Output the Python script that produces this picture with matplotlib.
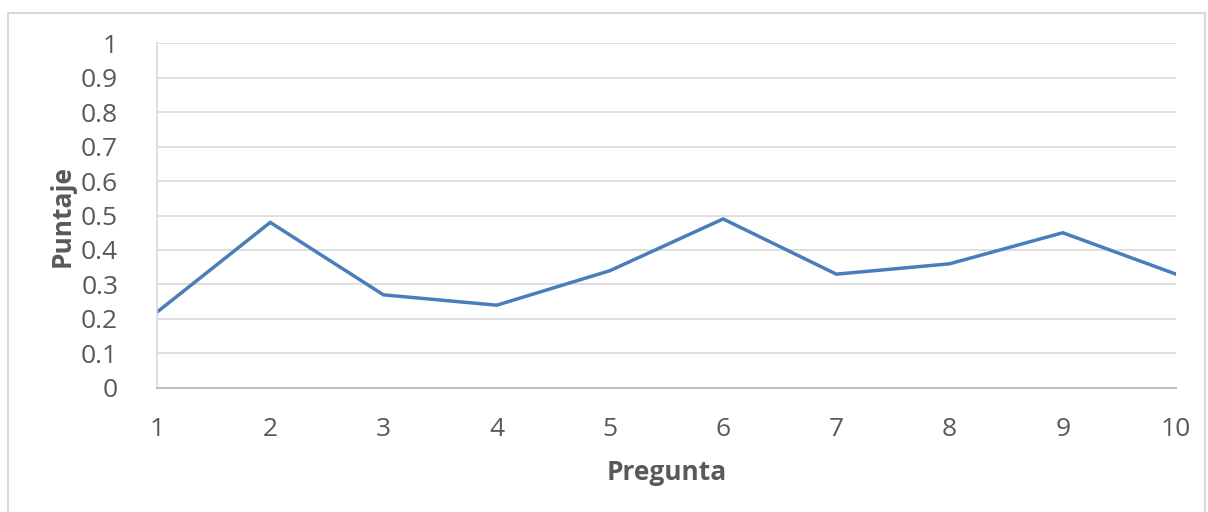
import matplotlib.pyplot as plt
from matplotlib.patches import Rectangle

preguntas = [1, 2, 3, 4, 5, 6, 7, 8, 9, 10]
puntaje = [0.22, 0.48, 0.27, 0.24, 0.34, 0.49, 0.33, 0.36, 0.45, 0.33]
yticks = [0, 0.1, 0.2, 0.3, 0.4, 0.5, 0.6, 0.7, 0.8, 0.9, 1]
ylabels = ["0", "0.1", "0.2", "0.3", "0.4", "0.5", "0.6", "0.7", "0.8", "0.9", "1"]

plt.rcParams['font.family'] = ['Open Sans', 'DejaVu Sans']
txt = '#595959'

fig = plt.figure(figsize=(12.08, 5.12), dpi=100)
ax = fig.add_axes([0.130, 0.2422, 0.8435, 0.6738])

ax.plot(preguntas, puntaje, color='#4A7EBB', lw=2.5, solid_joinstyle='miter')
ax.set_xlim(1, 10)
ax.set_ylim(0, 1)
ax.set_xticks(preguntas)
ax.set_yticks(yticks)
ax.set_yticklabels(ylabels)
ax.grid(axis='y', color='#D9D9D9', lw=1.2)
ax.set_axisbelow(True)
for s in ['top', 'right']:
    ax.spines[s].set_visible(False)
ax.spines['left'].set_color('#D9D9D9')
ax.spines['bottom'].set_color('#BFBFBF')
ax.spines['left'].set_linewidth(1.2)
ax.spines['bottom'].set_linewidth(1.5)
ax.tick_params(length=0, labelsize=19, labelcolor=txt)
ax.tick_params(axis='x', pad=21)
ax.tick_params(axis='y', pad=28)
ax.set_xlabel('Pregunta', fontsize=19, fontweight='bold', color=txt, labelpad=12)
ax.set_ylabel('Puntaje', fontsize=19, fontweight='bold', color=txt, labelpad=4)

fig.patches.append(Rectangle((8 / 1208, -0.05), 1197 / 1208, 1.05 - 13 / 512,
                             transform=fig.transFigure, fill=False,
                             edgecolor='#D9D9D9', lw=1.5, clip_on=False))

fig.savefig('out.png', dpi=100)
